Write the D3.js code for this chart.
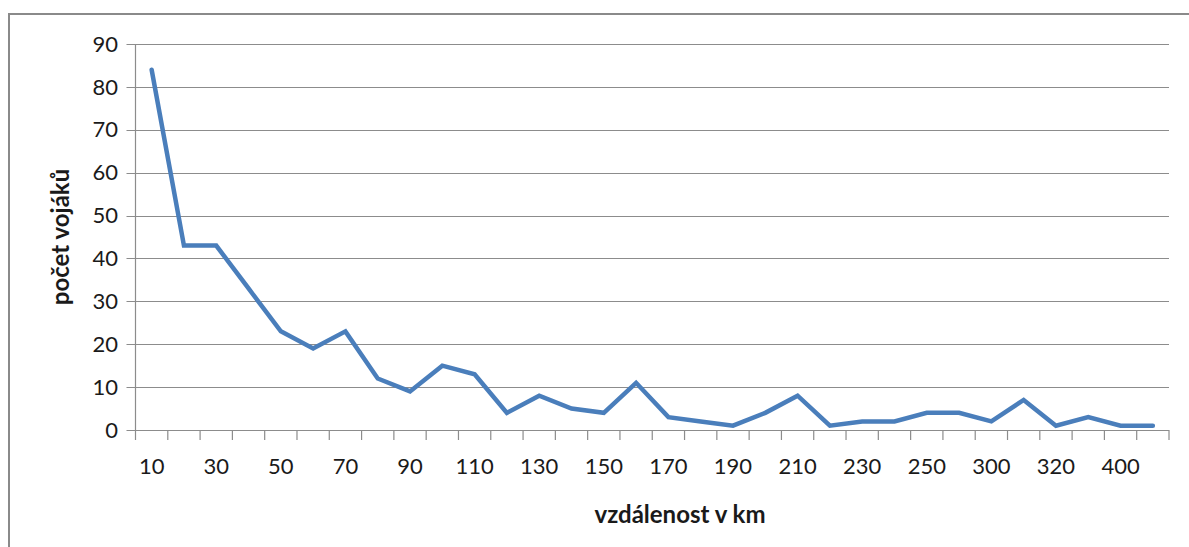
<!DOCTYPE html>
<html><head><meta charset="utf-8">
<script src="https://cdn.jsdelivr.net/npm/d3@7"></script>
<style>body{margin:0;background:#fff}svg{display:block}</style>
</head><body><div id="chart"></div>
<script>
const categories = ["10","20","30","40","50","60","70","80","90","100","110","120","130","140","150","160","170","180","190","200","210","220","230","240","250","280","300","310","320","350","400","500"];
const values = [84,43,43,33,23,19,23,12,9,15,13,4,8,5,4,11,3,2,1,4,8,1,2,2,4,4,2,7,1,3,1,1];
const yTicks = [0,10,20,30,40,50,60,70,80,90];

const W = 1189, H = 547;
const m = {left:135.5, right:1169, top:44, bottom:430};
const svg = d3.select("#chart").append("svg").attr("width",W).attr("height",H);
const font = "Lato, 'Open Sans', sans-serif";

// outer frame
svg.append("path").attr("d",`M9,${H} L9,14 L${W},14`).attr("fill","none").attr("stroke","#8a8a8a").attr("stroke-width",2);

const x = d3.scaleBand().domain(categories).range([m.left, m.right]).padding(0);
const y = d3.scaleLinear().domain([0,90]).range([m.bottom, m.top]);

// gridlines
svg.append("g").selectAll("line").data(yTicks).join("line")
  .attr("x1", m.left-9).attr("x2", m.right)
  .attr("y1", d=>Math.round(y(d))+0.5).attr("y2", d=>Math.round(y(d))+0.5)
  .attr("stroke","#8c8c8c").attr("stroke-width",1.2);

// y axis line
svg.append("line").attr("x1",m.left).attr("x2",m.left).attr("y1",m.top).attr("y2",m.bottom)
  .attr("stroke","#8c8c8c").attr("stroke-width",1.2);

// y labels
svg.append("g").selectAll("text").data(yTicks).join("text")
  .attr("x",118).attr("y",d=>y(d)).attr("dy","0.35em").attr("text-anchor","end")
  .attr("font-family",font).attr("font-size",22).attr("fill","#1a1a1a").text(d=>d);

// x ticks at category boundaries
const bounds = categories.map(c=>x(c)).concat([m.right]);
svg.append("g").selectAll("line").data(bounds).join("line")
  .attr("x1",d=>d).attr("x2",d=>d).attr("y1",m.bottom).attr("y2",m.bottom+10)
  .attr("stroke","#8c8c8c").attr("stroke-width",1.2);

// x labels every other category
svg.append("g").selectAll("text").data(categories.filter((c,i)=>i%2===0)).join("text")
  .attr("x",d=>x(d)+x.bandwidth()/2).attr("y",466).attr("dy","0.35em").attr("text-anchor","middle")
  .attr("font-family",font).attr("font-size",22).attr("fill","#1a1a1a").text(d=>d);

// line
const line = d3.line().x((d,i)=>x(categories[i])+x.bandwidth()/2).y(d=>y(d));
svg.append("path").datum(values).attr("d",line).attr("fill","none")
  .attr("stroke","#4a7ebb").attr("stroke-width",4.5).attr("stroke-linejoin","miter").attr("stroke-linecap","round");

// axis titles
svg.append("text").attr("x",680).attr("y",515).attr("dy","0.35em").attr("text-anchor","middle")
  .attr("font-family",font).attr("font-weight","bold").attr("font-size",24).attr("fill","#1a1a1a").text("vzdálenost v km");
svg.append("text").attr("transform","translate(61,237) rotate(-90)").attr("dy","0.35em").attr("text-anchor","middle")
  .attr("font-family",font).attr("font-weight","bold").attr("font-size",24).attr("fill","#1a1a1a").text("počet vojáků");
</script></body></html>
